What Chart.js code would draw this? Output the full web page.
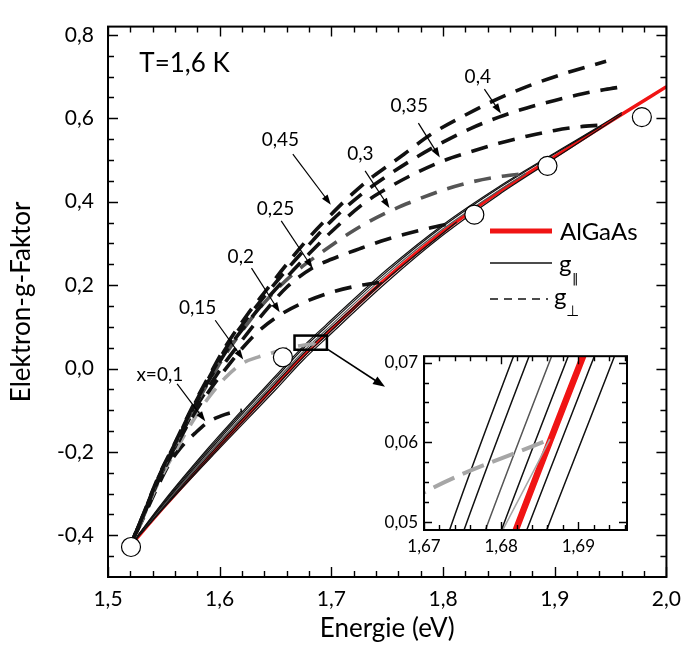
<!DOCTYPE html>
<html>
<head>
<meta charset="utf-8">
<script src="https://cdn.jsdelivr.net/npm/chart.js@4.4.1/dist/chart.umd.min.js"></script>
<style>
  html, body { margin: 0; padding: 0; background: #fff; }
  #wrap { position: relative; width: 691px; height: 655px; }
  #main { position: absolute; left: 0; top: 0; }
  #inset { position: absolute; left: 380px; top: 340px; }
</style>
</head>
<body>
<div id="wrap">
  <canvas id="main" width="691" height="655"></canvas>
  <canvas id="inset" width="260" height="222"></canvas>
</div>
<script>
/* g-Faktor der Elektronen in GaAs/AlGaAs-Quantentöpfen, T = 1,6 K
   Hauptdiagramm + vergrößerter Ausschnitt (Inset) um 1,68 eV */

const FONT = 'Lato, "DejaVu Sans", sans-serif';

// --- Achsenteilung ---
const X_TICKS = [1.50, 1.52, 1.54, 1.56, 1.58, 1.60, 1.62, 1.64, 1.66, 1.68, 1.70, 1.72, 1.74,
                 1.76, 1.78, 1.80, 1.82, 1.84, 1.86, 1.88, 1.90, 1.92, 1.94, 1.96, 1.98, 2.00];
const X_LABELS = [1.5, 1.6, 1.7, 1.8, 1.9, 2.0];
const Y_TICKS = [-0.45, -0.40, -0.35, -0.30, -0.25, -0.20, -0.15, -0.10, -0.05, 0.00, 0.05, 0.10, 0.15,
                 0.20, 0.25, 0.30, 0.35, 0.40, 0.45, 0.50, 0.55, 0.60, 0.65, 0.70, 0.75, 0.80];
const Y_LABELS = [-0.4, -0.2, 0.0, 0.2, 0.4, 0.6, 0.8];

const IX_TICKS = [1.670, 1.672, 1.674, 1.676, 1.678, 1.680, 1.682, 1.684, 1.686, 1.688, 1.690, 1.692, 1.694, 1.696];
const IX_LABELS = [1.67, 1.68, 1.69];
const IY_TICKS = [0.0500, 0.0525, 0.0550, 0.0575, 0.0600, 0.0625, 0.0650, 0.0675, 0.0700];
const IY_LABELS = [0.05, 0.06, 0.07];

// --- AlGaAs (Volumenmaterial) ---
const E_ALGAAS = [1.519, 1.55, 1.60, 1.65, 1.675, 1.695, 1.75, 1.80, 1.85, 1.90, 1.95, 2.00];
const G_ALGAAS = [-0.428, -0.332, -0.184, -0.040, 0.0311, 0.0817, 0.218, 0.328, 0.423, 0.508, 0.593, 0.676];

// --- g parallel (dünne Linien) ---
const E_PAR_045 = [1.519, 1.55, 1.60, 1.65, 1.675, 1.695, 1.75, 1.80, 1.85, 1.90, 1.95, 1.96];
const G_PAR_045 = [-0.428, -0.321, -0.164, -0.018, 0.0536, 0.1042, 0.238, 0.345, 0.436, 0.517, 0.597, 0.614];
const E_PAR_040 = [1.519, 1.55, 1.60, 1.65, 1.675, 1.695, 1.75, 1.80, 1.85, 1.90, 1.95, 1.96];
const G_PAR_040 = [-0.428, -0.334, -0.191, -0.051, 0.0210, 0.0716, 0.208, 0.320, 0.417, 0.504, 0.591, 0.609];
const E_PAR_035 = [1.519, 1.55, 1.60, 1.65, 1.675, 1.695, 1.75, 1.80, 1.85, 1.90, 1.942];
const G_PAR_035 = [-0.428, -0.324, -0.169, -0.023, 0.0485, 0.0991, 0.233, 0.341, 0.433, 0.515, 0.582];
const E_PAR_030 = [1.519, 1.55, 1.60, 1.65, 1.675, 1.695, 1.75, 1.80, 1.85, 1.874];
const G_PAR_030 = [-0.428, -0.327, -0.175, -0.030, 0.0412, 0.0918, 0.227, 0.335, 0.427, 0.468];
const E_PAR_025 = [1.519, 1.55, 1.60, 1.65, 1.675, 1.695, 1.75, 1.80, 1.812];
const G_PAR_025 = [-0.428, -0.333, -0.186, -0.044, 0.0275, 0.0781, 0.215, 0.325, 0.351];
const E_PAR_020 = [1.519, 1.55, 1.60, 1.65, 1.675, 1.695, 1.745];
const G_PAR_020 = [-0.428, -0.330, -0.180, -0.0355, 0.0358, 0.0864, 0.207];
const E_PAR_015 = [1.519, 1.55, 1.60, 1.65, 1.675, 1.6863];
const G_PAR_015 = [-0.428, -0.328, -0.176, -0.030, 0.0382, 0.0604];
const E_PAR_010 = [1.519, 1.55, 1.59, 1.62];
const G_PAR_010 = [-0.428, -0.318, -0.190, -0.100];

// --- g senkrecht (gestrichelt) ---
const E_PERP_045 = [1.519, 1.53, 1.545, 1.56, 1.575, 1.59, 1.605, 1.625, 1.64, 1.66, 1.68, 1.70, 1.714,
                    1.735, 1.75, 1.765, 1.79, 1.82, 1.846, 1.875, 1.907, 1.946];
const G_PERP_045 = [-0.43, -0.36, -0.26, -0.178, -0.095, -0.02, 0.052, 0.13, 0.182, 0.25, 0.314, 0.37, 0.407,
                    0.456, 0.485, 0.514, 0.563, 0.608, 0.643, 0.676, 0.706, 0.737];
const E_PERP_040 = [1.519, 1.53, 1.545, 1.56, 1.575, 1.59, 1.605, 1.625, 1.64, 1.66, 1.68, 1.70, 1.726,
                    1.75, 1.775, 1.80, 1.825, 1.85, 1.875, 1.90, 1.925, 1.945, 1.961];
const G_PERP_040 = [-0.43, -0.361, -0.262, -0.18, -0.098, -0.024, 0.046, 0.122, 0.173, 0.237, 0.297, 0.354, 0.416,
                    0.462, 0.505, 0.543, 0.576, 0.603, 0.625, 0.643, 0.659, 0.669, 0.676];
const E_PERP_035 = [1.519, 1.53, 1.545, 1.56, 1.575, 1.59, 1.605, 1.625, 1.64, 1.66, 1.68, 1.70, 1.73,
                    1.75, 1.775, 1.80, 1.825, 1.85, 1.875, 1.90, 1.92, 1.942];
const G_PERP_035 = [-0.43, -0.362, -0.264, -0.183, -0.102, -0.03, 0.038, 0.11, 0.16, 0.219, 0.275, 0.328, 0.398,
                    0.432, 0.468, 0.498, 0.52, 0.54, 0.557, 0.571, 0.579, 0.584];
const E_PERP_030 = [1.519, 1.53, 1.545, 1.56, 1.575, 1.59, 1.605, 1.62, 1.64, 1.665, 1.692, 1.72, 1.748,
                    1.775, 1.80, 1.825, 1.85, 1.874];
const G_PERP_030 = [-0.43, -0.362, -0.264, -0.183, -0.103, -0.033, 0.033, 0.09, 0.158, 0.225, 0.28, 0.331, 0.372,
                    0.403, 0.428, 0.447, 0.46, 0.468];
const E_PERP_025 = [1.519, 1.53, 1.545, 1.56, 1.575, 1.59, 1.605, 1.62, 1.64, 1.66, 1.683, 1.70, 1.725,
                    1.75, 1.78, 1.812];
const G_PERP_025 = [-0.43, -0.363, -0.267, -0.188, -0.11, -0.045, 0.015, 0.068, 0.135, 0.195, 0.241, 0.262, 0.287,
                    0.31, 0.332, 0.351];
const E_PERP_020 = [1.519, 1.53, 1.545, 1.56, 1.575, 1.59, 1.605, 1.62, 1.635, 1.655, 1.675, 1.70, 1.725, 1.745];
const G_PERP_020 = [-0.43, -0.364, -0.27, -0.192, -0.118, -0.056, -0.002, 0.048, 0.09, 0.13, 0.158, 0.183, 0.199, 0.207];
const E_PERP_015 = [1.519, 1.53, 1.545, 1.56, 1.575, 1.59, 1.605, 1.62, 1.635, 1.645, 1.658, 1.67, 1.6863];
const G_PERP_015 = [-0.43, -0.366, -0.274, -0.2, -0.13, -0.07, -0.022, 0.012, 0.028, 0.036, 0.046, 0.0537, 0.0604];
const E_PERP_010 = [1.519, 1.53, 1.545, 1.555, 1.565, 1.578, 1.59, 1.605, 1.62];
const G_PERP_010 = [-0.43, -0.368, -0.28, -0.228, -0.19, -0.155, -0.128, -0.11, -0.10];

// --- Messpunkte (Kreise) ---
const E_MESS = [1.5206, 1.6566, 1.828, 1.8935, 1.978];
const G_MESS = [-0.428, 0.027, 0.369, 0.486, 0.603];

// Beschriftung der Al-Gehalte x: Text, Textposition, Pfeil (Datenkoordinaten)
const ANNOTATIONS = [
  { text: 'x=0,1', at: [1.5464, -0.015], from: [1.5619, -0.0367], to: [1.5871, -0.1264] },
  { text: '0,15', at: [1.5803, 0.145], from: [1.5960, 0.1157], to: [1.6211, 0.0219] },
  { text: '0,2', at: [1.6189, 0.268], from: [1.6285, 0.2406], to: [1.6537, 0.135] },
  { text: '0,25', at: [1.6500, 0.3833], from: [1.6551, 0.354], to: [1.6832, 0.2406] },
  { text: '0,45', at: [1.6544, 0.549], from: [1.6655, 0.514], to: [1.6995, 0.393] },
  { text: '0,3', at: [1.7260, 0.514], from: [1.7302, 0.474], to: [1.7520, 0.385] },
  { text: '0,35', at: [1.7697, 0.631], from: [1.7779, 0.5884], to: [1.7971, 0.5063] },
  { text: '0,4', at: [1.8311, 0.6997], from: [1.8370, 0.670], to: [1.8518, 0.6118] }
];
// Ausschnittsrahmen im Hauptdiagramm und Pfeil zum Inset
const ZOOM_BOX = { x0: 1.667, x1: 1.696, y0: 0.045, y1: 0.079 };
const ZOOM_ARROW = { from: [1.6957, 0.0477], to: [1.748, -0.0437] };

const BLACK = '#111';
const DARK_GREY = '#555';
const LIGHT_GREY = '#a6a6a6';
const RED = '#f01414';
const DASH = [17, 11];

const fmt = (v, d) => v.toFixed(d).replace('.', ',');
const isMajor = (list, v) => list.some(l => Math.abs(l - v) < 1e-6);
const pts = (xs, ys) => xs.map((x, i) => ({ x, y: ys[i] }));

function curve(xs, ys, color, width, dash, order, dashOffset) {
  return {
    data: pts(xs, ys),
    borderColor: color,
    borderWidth: width,
    borderDash: dash || [],
    borderDashOffset: dashOffset || 0,
    borderCapStyle: 'butt',
    pointRadius: 0,
    fill: false,
    cubicInterpolationMode: 'monotone',
    order
  };
}

function arrow(ctx, x1, y1, x2, y2, len, half) {
  const ang = Math.atan2(y2 - y1, x2 - x1);
  ctx.beginPath();
  ctx.moveTo(x1, y1);
  ctx.lineTo(x2 - Math.cos(ang) * len * 0.8, y2 - Math.sin(ang) * len * 0.8);
  ctx.stroke();
  ctx.beginPath();
  ctx.moveTo(x2, y2);
  ctx.lineTo(x2 - Math.cos(ang) * len - Math.sin(ang) * half, y2 - Math.sin(ang) * len + Math.cos(ang) * half);
  ctx.lineTo(x2 - Math.cos(ang) * len + Math.sin(ang) * half, y2 - Math.sin(ang) * len - Math.cos(ang) * half);
  ctx.closePath();
  ctx.fill();
}

// Rahmen + nach innen zeigende Teilstriche auf allen vier Seiten
function frameAndTicks(chart, xt, xl, yt, yl, major, minor, frameW) {
  const { ctx, chartArea: a, scales: { x, y } } = chart;
  ctx.save();
  ctx.strokeStyle = '#000';
  ctx.lineWidth = 1.4;
  ctx.beginPath();
  xt.forEach(v => {
    const px = Math.round(x.getPixelForValue(v)) + 0.5;
    const len = isMajor(xl, v) ? major : minor;
    ctx.moveTo(px, a.bottom); ctx.lineTo(px, a.bottom - len);
    ctx.moveTo(px, a.top); ctx.lineTo(px, a.top + len);
  });
  yt.forEach(v => {
    const py = Math.round(y.getPixelForValue(v)) + 0.5;
    const len = isMajor(yl, v) ? major : minor;
    ctx.moveTo(a.left, py); ctx.lineTo(a.left + len, py);
    ctx.moveTo(a.right, py); ctx.lineTo(a.right - len, py);
  });
  ctx.stroke();
  ctx.lineWidth = frameW;
  ctx.strokeRect(a.left, a.top, a.right - a.left, a.bottom - a.top);
  ctx.restore();
}

const mainDecor = {
  id: 'mainDecor',
  afterDatasetsDraw(chart) {
    const { ctx, scales: { x, y } } = chart;
    frameAndTicks(chart, X_TICKS, X_LABELS, Y_TICKS, Y_LABELS, 10, 6, 2);

    ctx.save();
    ctx.fillStyle = '#000';
    ctx.strokeStyle = '#000';

    // Temperatur
    ctx.font = `26px ${FONT}`;
    ctx.textAlign = 'left';
    ctx.textBaseline = 'alphabetic';
    ctx.fillText('T=1,6 K', x.getPixelForValue(1.528), y.getPixelForValue(0.711));

    // Al-Gehalte mit Pfeilen
    ctx.font = `19px ${FONT}`;
    ctx.textAlign = 'center';
    ctx.textBaseline = 'middle';
    ctx.lineWidth = 1.2;
    ANNOTATIONS.forEach(a => {
      ctx.fillText(a.text, x.getPixelForValue(a.at[0]), y.getPixelForValue(a.at[1]));
      arrow(ctx, x.getPixelForValue(a.from[0]), y.getPixelForValue(a.from[1]),
        x.getPixelForValue(a.to[0]), y.getPixelForValue(a.to[1]), 10, 3.5);
    });

    // Ausschnittsrahmen
    const bx0 = x.getPixelForValue(ZOOM_BOX.x0), bx1 = x.getPixelForValue(ZOOM_BOX.x1);
    const by0 = y.getPixelForValue(ZOOM_BOX.y1), by1 = y.getPixelForValue(ZOOM_BOX.y0);
    ctx.lineWidth = 2.5;
    ctx.strokeRect(bx0, by0, bx1 - bx0, by1 - by0);
    ctx.lineWidth = 1.6;
    arrow(ctx, x.getPixelForValue(ZOOM_ARROW.from[0]), y.getPixelForValue(ZOOM_ARROW.from[1]),
      x.getPixelForValue(ZOOM_ARROW.to[0]), y.getPixelForValue(ZOOM_ARROW.to[1]), 12, 4.5);

    // Legende
    ctx.textAlign = 'left';
    ctx.textBaseline = 'alphabetic';
    ctx.strokeStyle = RED;
    ctx.lineWidth = 5;
    ctx.beginPath(); ctx.moveTo(490, 231); ctx.lineTo(552, 231); ctx.stroke();
    ctx.font = `24px ${FONT}`;
    ctx.fillText('AlGaAs', 560, 240);

    ctx.strokeStyle = BLACK;
    ctx.lineWidth = 1.5;
    ctx.beginPath(); ctx.moveTo(490, 263); ctx.lineTo(552, 263); ctx.stroke();
    ctx.font = `24px ${FONT}`;
    ctx.fillText('g', 559, 272);
    ctx.font = `13px "DejaVu Sans", sans-serif`;
    ctx.fillText('\u2016', 572, 283);

    ctx.setLineDash([8, 6]);
    ctx.beginPath(); ctx.moveTo(490, 299); ctx.lineTo(548, 299); ctx.stroke();
    ctx.setLineDash([]);
    ctx.font = `24px ${FONT}`;
    ctx.fillText('g', 554, 305);
    ctx.font = `15px "DejaVu Sans", sans-serif`;
    ctx.fillText('\u22a5', 566, 316);
    ctx.restore();
  }
};

const mainDatasets = [
  { type: 'scatter', data: pts(E_MESS, G_MESS), pointRadius: 9.5, pointBackgroundColor: '#fff',
    pointBorderColor: '#000', pointBorderWidth: 1.2, showLine: false, order: 0 },
  curve(E_PERP_045, G_PERP_045, BLACK, 3.6, DASH, 2, 0),
  curve(E_PERP_040, G_PERP_040, BLACK, 3.6, DASH, 2, 9),
  curve(E_PERP_035, G_PERP_035, BLACK, 3.6, DASH, 2, 18),
  curve(E_PERP_030, G_PERP_030, DARK_GREY, 3.6, DASH, 2, 5),
  curve(E_PERP_025, G_PERP_025, BLACK, 3.6, DASH, 2, 14),
  curve(E_PERP_020, G_PERP_020, BLACK, 3.6, DASH, 2, 23),
  curve(E_PERP_015, G_PERP_015, LIGHT_GREY, 3.6, DASH, 2, 3),
  curve(E_PERP_010, G_PERP_010, BLACK, 3.6, DASH, 2, 11),
  curve(E_PAR_045, G_PAR_045, BLACK, 1.2, null, 3),
  curve(E_PAR_040, G_PAR_040, BLACK, 1.2, null, 3),
  curve(E_PAR_035, G_PAR_035, BLACK, 1.2, null, 3),
  curve(E_PAR_030, G_PAR_030, DARK_GREY, 1.2, null, 3),
  curve(E_PAR_025, G_PAR_025, BLACK, 1.2, null, 3),
  curve(E_PAR_020, G_PAR_020, BLACK, 1.2, null, 3),
  curve(E_PAR_015, G_PAR_015, LIGHT_GREY, 1.2, null, 3),
  curve(E_PAR_010, G_PAR_010, BLACK, 1.2, null, 3),
  curve(E_ALGAAS, G_ALGAAS, RED, 3.5, null, 5)
];

new Chart(document.getElementById('main'), {
  type: 'line',
  data: { datasets: mainDatasets },
  options: {
    responsive: false,
    animation: false,
    devicePixelRatio: 1,
    events: [],
    layout: { padding: { left: 0, right: 18, top: 14, bottom: 0 } },
    plugins: { legend: { display: false }, tooltip: { enabled: false } },
    scales: {
      x: {
        type: 'linear', min: 1.5, max: 2.0,
        afterBuildTicks: s => { s.ticks = X_TICKS.map(value => ({ value })); },
        afterFit: s => { s.height = 78; },
        grid: { display: false, drawTicks: false },
        border: { display: false },
        ticks: {
          autoSkip: false, maxRotation: 0, padding: 10, color: '#000',
          font: { family: FONT, size: 21 },
          callback: v => isMajor(X_LABELS, v) ? fmt(v, 1) : ''
        },
        title: { display: true, text: 'Energie (eV)', color: '#000',
          font: { family: FONT, size: 26 }, padding: { top: 0, bottom: 11 } }
      },
      y: {
        type: 'linear', min: -0.5, max: 0.82,
        afterBuildTicks: s => { s.ticks = Y_TICKS.map(value => ({ value })); },
        afterFit: s => { s.width = 108; },
        grid: { display: false, drawTicks: false },
        border: { display: false },
        ticks: {
          autoSkip: false, padding: 14, color: '#000',
          font: { family: FONT, size: 21 },
          callback: v => isMajor(Y_LABELS, v) ? fmt(v, 1) : ''
        },
        title: { display: true, text: 'Elektron-g-Faktor', color: '#000',
          font: { family: FONT, size: 26 }, padding: { top: 6, bottom: 0 } }
      }
    }
  },
  plugins: [mainDecor]
});

// --- Inset: Ausschnitt 1,67 ... 1,696 eV ---
const insetDecor = {
  id: 'insetDecor',
  beforeDatasetsDraw(chart) {
    const { ctx, chartArea: a } = chart;
    ctx.save();
    ctx.fillStyle = '#fff';
    ctx.fillRect(a.left, a.top, a.right - a.left, a.bottom - a.top);
    ctx.restore();
  },
  afterDatasetsDraw(chart) {
    frameAndTicks(chart, IX_TICKS, IX_LABELS, IY_TICKS, IY_LABELS, 8, 5, 2);
  }
};

const insetDatasets = [
  curve(E_PERP_015, G_PERP_015, LIGHT_GREY, 4, [23, 9], 2, 6),
  curve(E_PAR_045, G_PAR_045, BLACK, 1.5, null, 3),
  curve(E_PAR_040, G_PAR_040, BLACK, 1.5, null, 3),
  curve(E_PAR_035, G_PAR_035, BLACK, 1.5, null, 3),
  curve(E_PAR_030, G_PAR_030, DARK_GREY, 1.5, null, 3),
  curve(E_PAR_025, G_PAR_025, BLACK, 1.5, null, 3),
  curve(E_PAR_020, G_PAR_020, BLACK, 1.5, null, 3),
  curve(E_PAR_015, G_PAR_015, LIGHT_GREY, 1.5, null, 3),
  curve(E_ALGAAS, G_ALGAAS, RED, 6.5, null, 5)
];

new Chart(document.getElementById('inset'), {
  type: 'line',
  data: { datasets: insetDatasets },
  options: {
    responsive: false,
    animation: false,
    devicePixelRatio: 1,
    events: [],
    layout: { padding: { left: 0, right: 13, top: 14, bottom: 0 } },
    plugins: { legend: { display: false }, tooltip: { enabled: false } },
    scales: {
      x: {
        type: 'linear', min: 1.67, max: 1.6963,
        afterBuildTicks: s => { s.ticks = IX_TICKS.map(value => ({ value })); },
        afterFit: s => { s.height = 32; },
        grid: { display: false, drawTicks: false },
        border: { display: false },
        ticks: {
          autoSkip: false, maxRotation: 0, padding: 6, color: '#000',
          font: { family: FONT, size: 17 },
          callback: v => isMajor(IX_LABELS, v) ? fmt(v, 2) : ''
        }
      },
      y: {
        type: 'linear', min: 0.049, max: 0.0708,
        afterBuildTicks: s => { s.ticks = IY_TICKS.map(value => ({ value })); },
        afterFit: s => { s.width = 44; },
        grid: { display: false, drawTicks: false },
        border: { display: false },
        ticks: {
          autoSkip: false, padding: 6, color: '#000',
          font: { family: FONT, size: 17 },
          callback: v => isMajor(IY_LABELS, v) ? fmt(v, 2) : ''
        }
      }
    }
  },
  plugins: [insetDecor]
});
</script>
</body>
</html>
